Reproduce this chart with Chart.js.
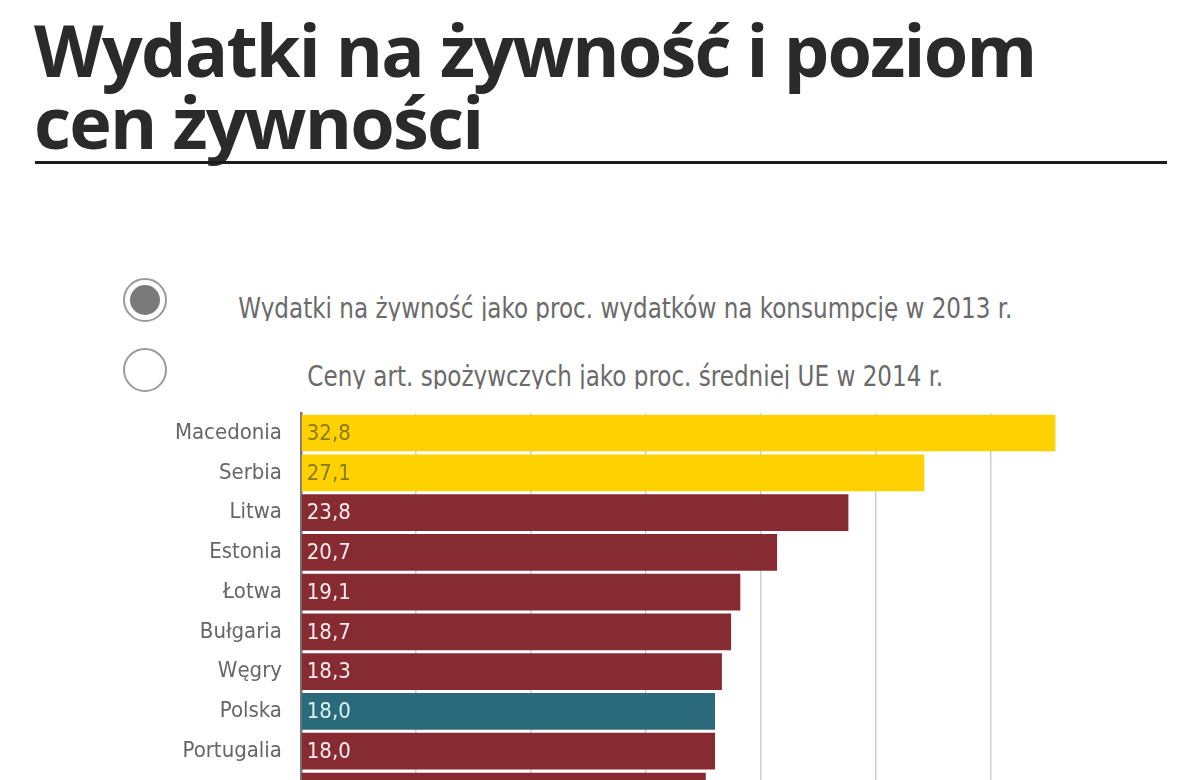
<!DOCTYPE html>
<html lang="pl">
<head>
<meta charset="utf-8">
<script src="https://cdn.jsdelivr.net/npm/chart.js@4.4.0/dist/chart.umd.min.js"></script>
<style>
  html, body { margin: 0; padding: 0; background: #fff; overflow: hidden; }
  body { width: 1200px; height: 780px; position: relative; }
  .title {
    position: absolute; left: 34px; top: 13px;
    font: bold 72px "Open Sans", sans-serif; line-height: 72px;
    color: #2a2a2a; letter-spacing: -1.8px; white-space: nowrap;
  }
  .rule { position: absolute; left: 35px; top: 161px; width: 1132px; height: 3px; background: #1c1c1c; }
  .opt { position: absolute; left: 0; width: 1250px; text-align: center;
    font: 29px "DejaVu Sans Condensed", sans-serif;
    color: #6a6a6a; height: 30px; overflow: hidden; line-height: 34px; }
  .opt span { display: inline-block; transform: scaleX(0.885); }
  .radio { position: absolute; width: 44px; height: 44px; border: 2.5px solid #9a9a9a; border-radius: 50%; box-sizing: border-box; }
  .radio.on::after { content: ""; position: absolute; left: 4.5px; top: 4.5px; width: 30px; height: 30px; border-radius: 50%; background: #7a7a7a; }
  #wrap { position: absolute; left: 0; top: 389px; width: 1200px; height: 446px; }
</style>
</head>
<body>
<div class="title">Wydatki na żywność i poziom<br>cen żywności</div>
<div class="rule"></div>

<div class="radio on" style="left:123px; top:278px;"></div>
<div class="opt" style="top:291px;"><span>Wydatki na żywność jako proc. wydatków na konsumpcję w 2013 r.</span></div>
<div class="radio" style="left:123px; top:348px;"></div>
<div class="opt" style="top:359px;"><span>Ceny art. spożywczych jako proc. średniej UE w 2014 r.</span></div>

<div id="wrap"><canvas id="chart"></canvas></div>

<script>
// dane: wydatki na żywność jako % wydatków konsumpcyjnych, 2013
const countries = ["Macedonia", "Serbia", "Litwa", "Estonia", "Łotwa", "Bułgaria", "Węgry", "Polska", "Portugalia", "Słowacja"];
const foodShare = [32.8, 27.1, 23.8, 20.7, 19.1, 18.7, 18.3, 18.0, 18.0, 17.6];
const groups = ["non-eu", "non-eu", "eu", "eu", "eu", "eu", "eu", "pl", "eu", "eu"];

const barColors = { "non-eu": "#ffd100", "eu": "#872b33", "pl": "#2b6a7a" };
const textColors = { "non-eu": "#877a22", "eu": "#fbecec", "pl": "#d8f3f8" };
const narrow = '"DejaVu Sans Condensed", sans-serif';

// wartości wpisane na początku słupków
const valueLabels = {
  id: "valueLabels",
  afterDatasetsDraw(chart) {
    const ctx = chart.ctx;
    const meta = chart.getDatasetMeta(0);
    ctx.save();
    ctx.font = "22px " + narrow;
    ctx.textBaseline = "middle";
    meta.data.forEach((bar, i) => {
      ctx.fillStyle = textColors[groups[i]];
      ctx.fillText(foodShare[i].toFixed(1).replace(".", ","), bar.base + 5, bar.y + 1);
    });
    ctx.restore();
  }
};

new Chart(document.getElementById("chart"), {
  type: "bar",
  data: {
    labels: countries,
    datasets: [{
      data: foodShare,
      backgroundColor: groups.map(g => barColors[g]),
      barPercentage: 0.92,
      categoryPercentage: 1.0
    }]
  },
  options: {
    indexAxis: "y",
    responsive: true,
    maintainAspectRatio: false,
    animation: false,
    layout: { padding: { top: 0, right: 94, bottom: 0, left: 0 } },
    plugins: { legend: { display: false }, tooltip: { enabled: false } },
    scales: {
      x: {
        min: 0, max: 35,
        ticks: { display: false, stepSize: 5 },
        border: { display: false },
        grid: {
          drawTicks: false,
          lineWidth: 1.5,
          color: c => (c.tick && c.tick.value > 0 && c.tick.value <= 30) ? "#cfcfcf" : "rgba(0,0,0,0)"
        }
      },
      y: {
        afterFit: s => { s.width = 301; },
        grid: { display: false },
        border: { display: true, color: "#777", width: 2.5 },
        ticks: { color: "#666", padding: 11, font: { size: 22, family: narrow } }
      }
    }
  },
  plugins: [valueLabels]
});
</script>
</body>
</html>
